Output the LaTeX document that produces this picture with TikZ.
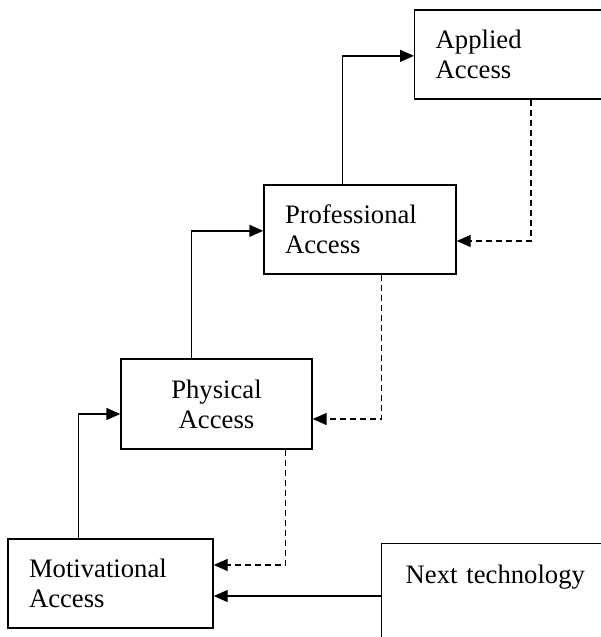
\documentclass[tikz,border=0pt]{standalone}
\usepackage{fontspec}
\setmainfont{Liberation Serif}
\usetikzlibrary{arrows.meta}
\tikzset{x=0.75pt, y=-0.75pt,
stage/.style={ % Sets the properties for each access box
draw,
line width=1.1pt,
align=left,
inner xsep=15.75pt,
inner ysep=0pt,
minimum height=66.75pt,
font=\fontsize{20}{22.5}\selectfont},
flow/.style={ % Solid step to the next stage
draw,
line width=1.1pt,
-{Triangle[length=10.5pt,width=9pt]}},
back/.style={ % Dashed return to the stage below
flow,
dash pattern=on 4.5pt off 3pt}}

\begin{document}
\begin{tikzpicture}
	\useasboundingbox (0,0) rectangle (601,637);
	\node[stage, anchor=west, text width=140pt] (applied) at (414,54.5) {Applied\\Access};
	\node[stage, text width=112.5pt] (prof) at (360,229.5) {Professional\\Access};
	\node[stage, text width=111.75pt, align=center, minimum height=67.5pt] (phys) at (216.5,404) {Physical\\Access};
	\node[stage, text width=122.25pt] (motiv) at (110.5,583.5) {Motivational\\Access};
	\node[stage, anchor=north west, text width=200pt, inner xsep=18pt, inner ysep=10pt,
		text height=20pt, text depth=45pt] (next) at (381,543) {Next technology};
	\coordinate (motin) at ([yshift=-9.4pt]motiv.east);
	\draw[flow] ([xshift=53.25pt]motiv.north west) |- ([yshift=-7.5pt]phys.west);
	\draw[flow] ([xshift=53.25pt]phys.north west) |- ([yshift=-1pt]prof.west);
	\draw[flow] ([xshift=59.25pt]prof.north west) |- ([yshift=-1pt]applied.west);
	\draw[back] ([xshift=87.75pt]applied.south west) |- ([yshift=-8.6pt]prof.east);
	\draw[back] ([xshift=88.5pt]prof.south west) |- ([yshift=-11.25pt]phys.east);
	\draw[back] ([xshift=123.75pt]phys.south west) |- ([yshift=13.9pt]motiv.east);
	\draw[flow] (next.west |- motin) -- (motin);
\end{tikzpicture}
\end{document}
